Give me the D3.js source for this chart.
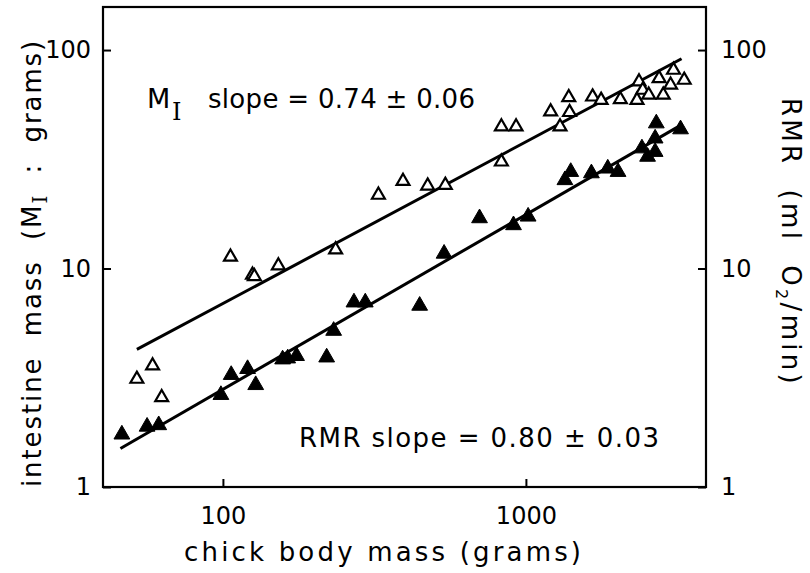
<!DOCTYPE html>
<html>
<head>
<meta charset="utf-8">
<script src="https://cdn.jsdelivr.net/npm/d3@7"></script>
<style>
  body { margin: 0; background: #fff; }
  text { font-family: "DejaVu Sans", sans-serif; fill: #000; }
</style>
</head>
<body>
<div id="chart"></div>
<script>
// intestine mass (open triangles)
var miMass = [52, 58.6, 62.8, 105.9, 125.2, 127, 152.4, 235.5, 326, 393, 474, 542, 830, 830, 928,
              1207, 1296, 1385, 1393, 1660, 1771, 2050, 2362, 2326, 2430, 2543, 2752, 2840, 3003, 3070, 3330];
var miVal = [3.12, 3.59, 2.57, 11.3, 9.34, 9.2, 10.3, 12.2, 21.7, 25.1, 23.9, 24.1, 30.8, 44.6, 44.6,
             52.2, 44.6, 60.7, 51.9, 61.1, 59.0, 59.4, 71.6, 59.0, 65.6, 62.3, 74.2, 62.3, 69.2, 81.0, 72.9];

// resting metabolic rate (filled triangles)
var rmrMass = [46.4, 56.2, 61.4, 98.5, 106.5, 120.6, 128.3, 157.4, 163.6, 175, 220, 232, 270.7, 295, 446,
               537, 703, 910, 1017, 1345, 1406, 1645, 1863, 2014, 2415, 2521, 2670, 2670, 2694, 3239];
var rmrVal = [1.74, 1.89, 1.92, 2.64, 3.26, 3.47, 2.93, 3.84, 3.88, 3.98, 3.92, 5.19, 7.0, 7.0, 6.76,
              11.7, 17.0, 15.8, 17.3, 25.4, 27.7, 27.3, 28.7, 27.7, 35.5, 32.5, 34.2, 39.4, 46.2, 43.4];

// fitted power laws  y = coef * mass^slope
var miFit = {coef: 0.229, slope: 0.74, from: 52, to: 3263};
var rmrFit = {coef: 0.0703, slope: 0.80, from: 45.9, to: 3206};

var xTicks = [100, 1000];
var yTicks = [1, 10, 100];

function init(){
    var w = 810;
    var h = 573;
    var left = 103, right = 706, top = 7, bottom = 487;

    var svg = d3.select("#chart")
                .append("svg")
                .attr("width", w)
                .attr("height", h);

    var xscale = d3.scaleLog()
                    .domain([40.2, 3930])
                    .range([left, right]);

    var yscale = d3.scaleLog()
                    .domain([1, 157.4])
                    .range([bottom, top]);

    // axes, ticks pointing inward
    var fmt = function(d) { return d3.format("d")(d); };
    var gx = svg.append("g")
        .attr("transform", "translate(0," + bottom + ")")
        .call(d3.axisBottom(xscale).tickValues(xTicks).tickFormat(fmt).tickSize(-8).tickPadding(20));
    var gl = svg.append("g")
        .attr("transform", "translate(" + left + ",0)")
        .call(d3.axisLeft(yscale).tickValues(yTicks).tickFormat(fmt).tickSize(-8).tickPadding(12));
    var gr = svg.append("g")
        .attr("transform", "translate(" + right + ",0)")
        .call(d3.axisRight(yscale).tickValues(yTicks).tickFormat(fmt).tickSize(-8).tickPadding(15));

    [gx, gl, gr].forEach(function(g) {
        g.select(".domain").remove();
        g.selectAll("line").attr("stroke", "#000").attr("stroke-width", 2);
        g.selectAll("text")
            .style("font-family", "'DejaVu Sans', sans-serif")
            .style("font-size", "24px")
            .attr("fill", "#000");
    });

    svg.append("rect")
        .attr("x", left)
        .attr("y", top)
        .attr("width", right - left)
        .attr("height", bottom - top)
        .attr("fill", "none")
        .attr("stroke", "#000")
        .attr("stroke-width", 2.2);

    // regression lines
    var line = d3.line()
        .x(function(d) { return xscale(d[0]); })
        .y(function(d) { return yscale(d[1]); });

    [miFit, rmrFit].forEach(function(f) {
        var pts = [f.from, f.to].map(function(m) {
            return [m, f.coef * Math.pow(m, f.slope)];
        });
        svg.append("path")
            .attr("d", line(pts))
            .attr("fill", "none")
            .attr("stroke", "#000")
            .attr("stroke-width", 3);
    });

    var openTri = d3.symbol().type(d3.symbolTriangle).size(72);
    var fillTri = d3.symbol().type(d3.symbolTriangle).size(108);

    svg.selectAll("path.mi")
        .data(miMass)
        .enter()
        .append("path")
        .attr("class", "mi")
        .attr("d", openTri)
        .attr("transform", function(d, i) {
            return "translate(" + xscale(d) + "," + yscale(miVal[i]) + ")";
        })
        .attr("fill", "#fff")
        .attr("stroke", "#000")
        .attr("stroke-width", 2.2);

    svg.selectAll("path.rmr")
        .data(rmrMass)
        .enter()
        .append("path")
        .attr("class", "rmr")
        .attr("d", fillTri)
        .attr("transform", function(d, i) {
            return "translate(" + xscale(d) + "," + yscale(rmrVal[i]) + ")";
        })
        .attr("fill", "#000")
        .attr("stroke", "#000")
        .attr("stroke-width", 1);

    // slope labels
    svg.append("text").attr("x", 147).attr("y", 108)
        .style("font-size", "27px").text("M");
    svg.append("text").attr("x", 172).attr("y", 120)
        .style("font-family", "'DejaVu Serif', serif")
        .style("font-size", "24px").text("I");
    svg.append("text").attr("x", 208).attr("y", 108)
        .style("font-size", "26px")
        .attr("textLength", 267).attr("lengthAdjust", "spacing")
        .text("slope = 0.74 ± 0.06");

    svg.append("text").attr("x", 299).attr("y", 447)
        .style("font-size", "26px")
        .attr("textLength", 360).attr("lengthAdjust", "spacing")
        .text("RMR slope = 0.80 ± 0.03");

    // axis titles
    svg.append("text")
        .attr("x", 184).attr("y", 561)
        .style("font-size", "26px")
        .attr("textLength", 397).attr("lengthAdjust", "spacing")
        .text("chick body mass (grams)");

    var lt = svg.append("text")
        .attr("transform", "translate(41,487) rotate(-90)")
        .style("font-size", "26px")
        .style("white-space", "pre")
        .style("letter-spacing", "1.9px");
    lt.append("tspan").text("intestine  mass  (M");
    lt.append("tspan").attr("dy", 6).style("font-family", "'DejaVu Serif', serif")
        .style("font-size", "20px").text("I");
    lt.append("tspan").attr("dy", -6).text("  :  grams)");

    var rt = svg.append("text")
        .attr("transform", "translate(782,98) rotate(90)")
        .style("font-size", "26px")
        .style("white-space", "pre")
        .style("letter-spacing", "3.3px");
    rt.append("tspan").text("RMR  (ml  O");
    rt.append("tspan").attr("dy", 6).style("font-size", "16px").text("2");
    rt.append("tspan").attr("dy", -6).text("/min)");
}
window.onload = init;
</script>
</body>
</html>
